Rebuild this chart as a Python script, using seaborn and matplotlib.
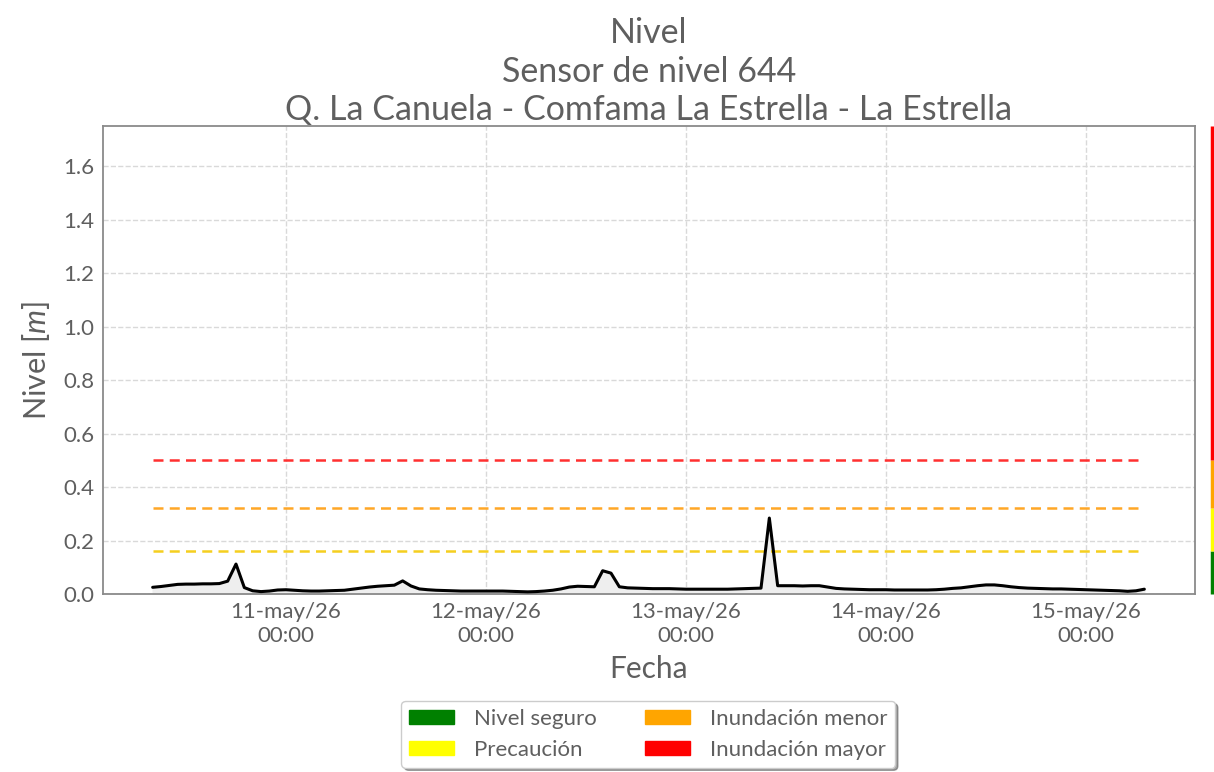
import numpy as np
import pandas as pd
import matplotlib
matplotlib.use("Agg")
import matplotlib.pyplot as plt
import matplotlib.dates as mdates
import matplotlib.patches as mpatches
import matplotlib.transforms as mtransforms
import seaborn as sns

# ---------------- data ----------------
start_time = "2026-05-10 08:00"
nivel = [
    0.025, 0.028, 0.032, 0.036, 0.037, 0.037, 0.038, 0.038, 0.039, 0.048,
    0.112, 0.024, 0.012, 0.009, 0.011, 0.015, 0.016, 0.014, 0.012, 0.011,
    0.011, 0.012, 0.013, 0.014, 0.018, 0.022, 0.026, 0.029, 0.031, 0.033,
    0.049, 0.030, 0.019, 0.016, 0.014, 0.013, 0.012, 0.011, 0.011, 0.011,
    0.011, 0.011, 0.011, 0.010, 0.009, 0.008, 0.009, 0.011, 0.014, 0.019,
    0.026, 0.029, 0.028, 0.027, 0.087, 0.078, 0.027, 0.023, 0.022, 0.021,
    0.020, 0.020, 0.020, 0.019, 0.018, 0.018, 0.018, 0.018, 0.018, 0.018,
    0.019, 0.020, 0.021, 0.022, 0.284, 0.031, 0.031, 0.031, 0.030, 0.031,
    0.031, 0.026, 0.021, 0.019, 0.018, 0.017, 0.016, 0.016, 0.016, 0.015,
    0.015, 0.015, 0.015, 0.015, 0.016, 0.018, 0.021, 0.023, 0.027, 0.031,
    0.034, 0.034, 0.031, 0.027, 0.024, 0.022, 0.021, 0.020, 0.019, 0.019,
    0.018, 0.017, 0.016, 0.015, 0.014, 0.013, 0.012, 0.010, 0.012, 0.018,
]
umbral_names = ["Nivel seguro", "Precaución", "Inundación menor", "Inundación mayor"]
umbral_values = [0.0, 0.16, 0.32, 0.50]
umbral_colors = ["#008000", "#FFFF00", "#FFA500", "#FF0000"]
umbral_line_colors = ["#F5CF1F", "#FFA726", "#FF3030"]  # precaución, menor, mayor
meses = ["ene", "feb", "mar", "abr", "may", "jun", "jul", "ago", "sep", "oct", "nov", "dic"]
title_lines = ["Nivel", "Sensor de nivel 644", "Q. La Canuela - Comfama La Estrella - La Estrella"]
y_max = 1.75

times = pd.date_range(start_time, periods=len(nivel), freq="h")
df = pd.DataFrame({"Fecha": times, "Nivel": nivel})

# ---------------- style ----------------
sns.set_theme(style="whitegrid")
FONT = ["Lato", "DejaVu Sans"]
plt.rcParams["font.family"] = FONT
plt.rcParams["font.weight"] = "normal"
plt.rcParams["mathtext.fontset"] = "custom"
plt.rcParams["mathtext.it"] = "Lato:italic"
plt.rcParams["mathtext.rm"] = "Lato"
TXT = "#5f5f5f"

fig = plt.figure(figsize=(12.14, 7.72), dpi=100)
ax = fig.add_axes([103 / 1214, 1 - 594 / 772, (1195 - 103) / 1214, (594 - 126) / 772])
ax.set_facecolor("white")

# fill + line
ax.fill_between(df["Fecha"], 0, df["Nivel"], color="#eeeeee", zorder=2)
sns.lineplot(data=df, x="Fecha", y="Nivel", ax=ax, color="black", linewidth=2.2, zorder=4)

# threshold lines
for val, col in zip(umbral_values[1:], umbral_line_colors):
    ax.plot([df["Fecha"].iloc[0], df["Fecha"].iloc[-1]], [val, val], color=col,
            linestyle=(0, (4, 2.5)), linewidth=1.8, zorder=3)

# color bar on the right (outside axes)
trans = mtransforms.blended_transform_factory(ax.transAxes, ax.transData)
bounds = umbral_values + [y_max]
for i, col in enumerate(umbral_colors):
    ax.plot([1.0155, 1.0155], [bounds[i], bounds[i + 1]], color=col, linewidth=2.5,
            transform=trans, clip_on=False, solid_capstyle="butt")

# axes settings
ax.set_ylim(0, y_max)
x0 = pd.Timestamp("2026-05-11 00:00") - pd.Timedelta(days=0.915)
x1 = pd.Timestamp("2026-05-15 00:00") + pd.Timedelta(days=0.545)
ax.set_xlim(x0, x1)
ax.set_yticks(np.arange(0, 1.61, 0.2))
ax.yaxis.set_major_formatter(matplotlib.ticker.FormatStrFormatter("%.1f"))
ax.xaxis.set_major_locator(mdates.DayLocator())


def fmt_date(x, pos=None):
    d = mdates.num2date(x)
    return f"{d.day:02d}-{meses[d.month - 1]}/{d.strftime('%y')}\n{d.strftime('%H:%M')}"


ax.xaxis.set_major_formatter(matplotlib.ticker.FuncFormatter(fmt_date))
ax.grid(True, linestyle="--", color="#d9d9d9", linewidth=1.0)
ax.tick_params(axis="both", length=0, labelsize=16, labelcolor=TXT, pad=6)
for sp in ax.spines.values():
    sp.set_color("#8a8a8a")
    sp.set_linewidth(1.3)

ax.set_xlabel("Fecha", fontsize=21.5, color=TXT, labelpad=7)
ax.set_ylabel("Nivel [$m$]", fontsize=22, color=TXT, labelpad=8)
ax.set_title("\n".join(title_lines), fontsize=24.5, color=TXT, pad=4, linespacing=1.25)

# legend
handles = [mpatches.Patch(facecolor=c, edgecolor=c, label=n) for n, c in zip(umbral_names, umbral_colors)]
leg = fig.legend(handles=handles, loc="center", bbox_to_anchor=(0.534, 0.049), ncol=2,
                 fontsize=16, frameon=True, shadow=True, fancybox=True,
                 handlelength=2.0, handleheight=0.6, columnspacing=2.2, handletextpad=0.9,
                 labelspacing=0.5, borderpad=0.35)
for t in leg.get_texts():
    t.set_color(TXT)
leg.get_frame().set_edgecolor("#cccccc")

fig.savefig("out.png", dpi=100, facecolor="white")
